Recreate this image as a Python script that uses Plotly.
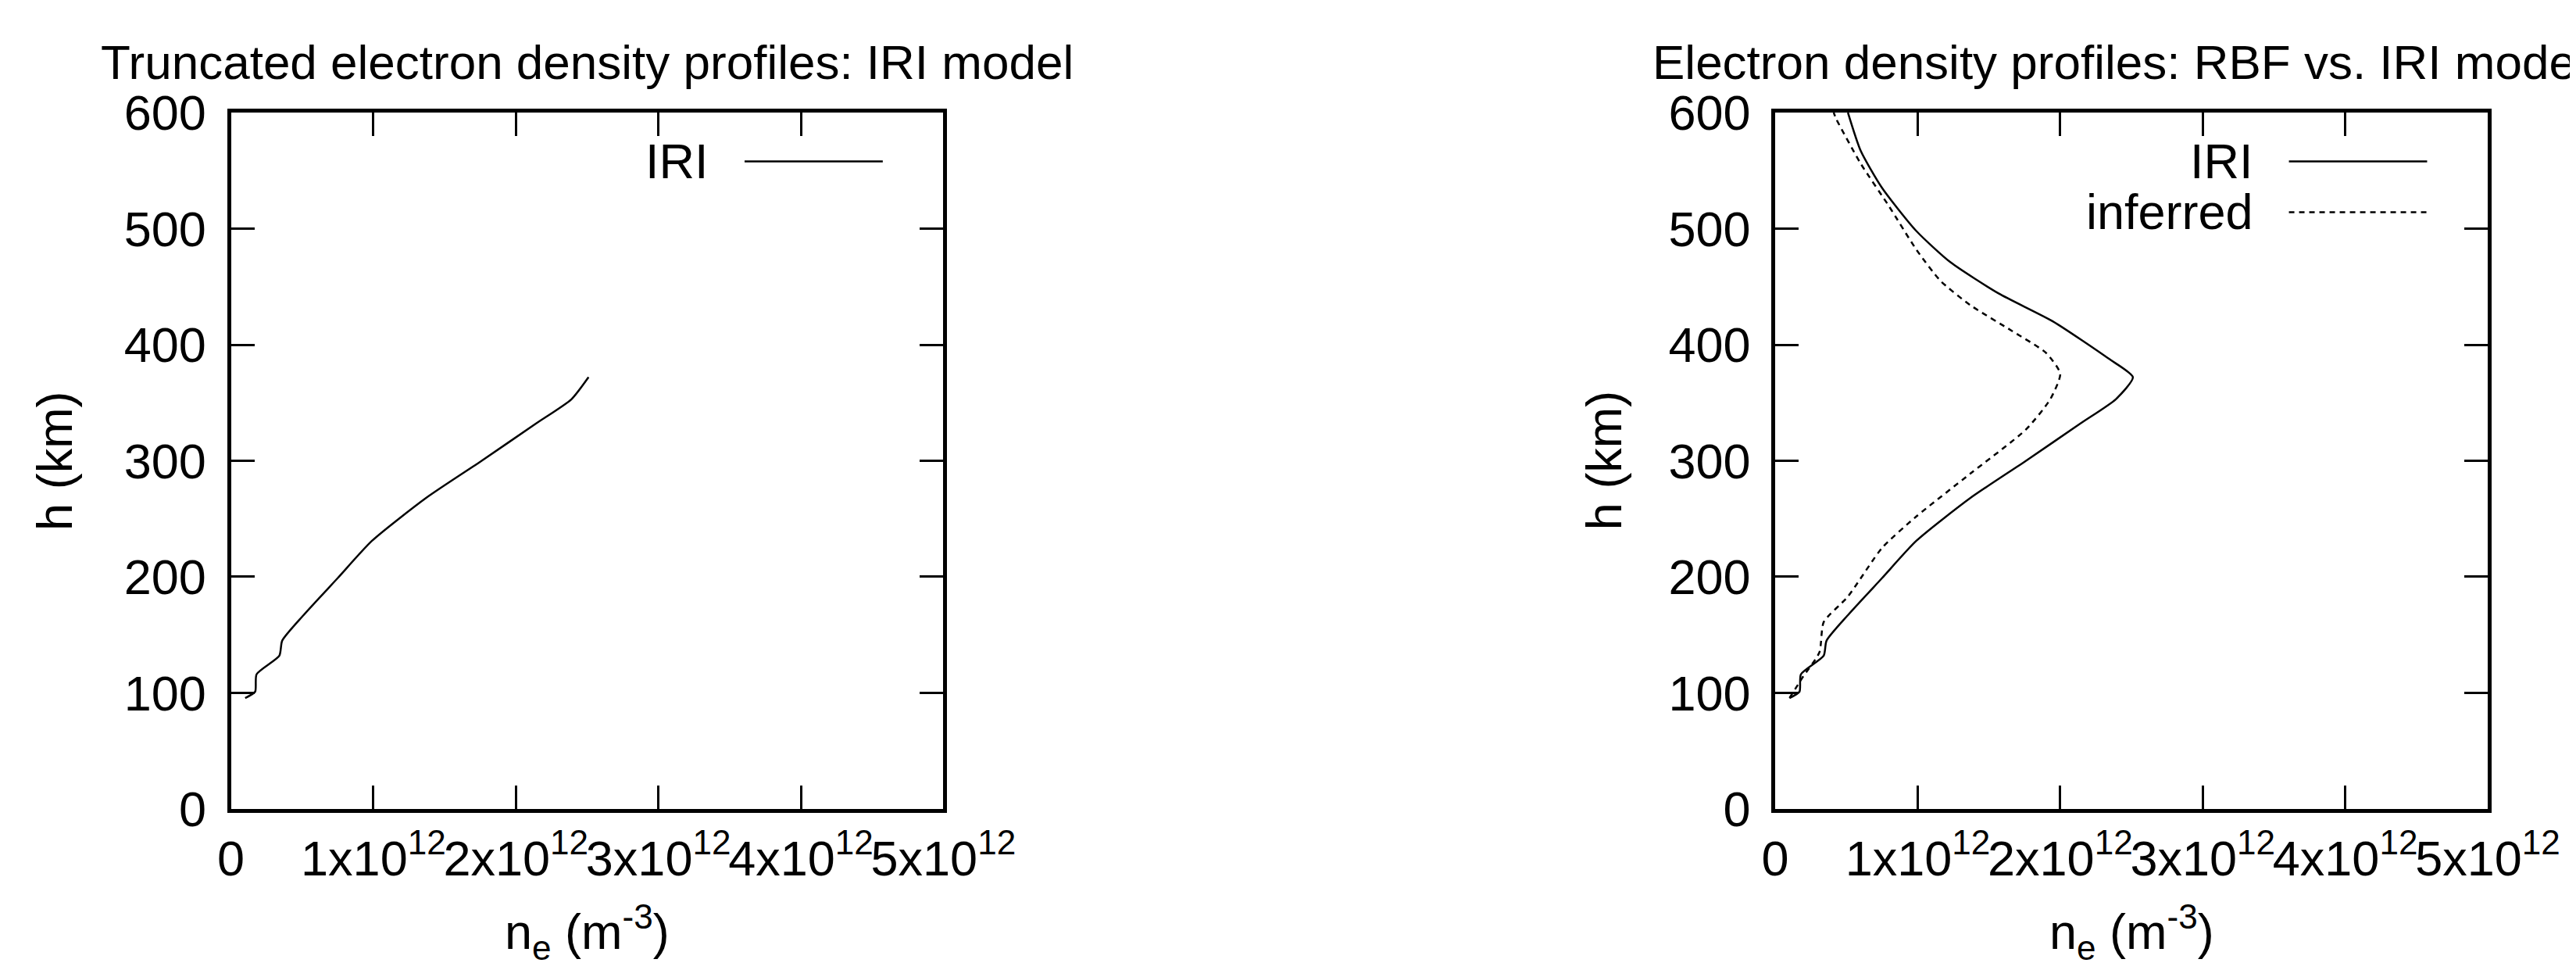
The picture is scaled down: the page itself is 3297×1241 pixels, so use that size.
import plotly.graph_objects as go

iri_ne = [0.10, 0.17, 0.18, 0.34, 0.36, 0.51, 0.75, 0.99, 1.37, 1.76, 2.14, 2.39, 2.51,
          2.34, 1.95, 1.57, 1.23, 0.99, 0.75, 0.60, 0.51]
iri_h = [95.6, 101, 116, 132, 145, 167, 199, 231, 268, 300, 332, 353, 372,
         388, 420, 444, 471, 498, 535, 567, 600]
inf_ne = [0.10, 0.19, 0.31, 0.34, 0.51, 0.75, 0.99, 1.37, 1.76, 1.93, 2.00, 1.90, 1.66,
          1.37, 1.16, 0.99, 0.80, 0.60, 0.43, 0.41]
inf_h = [95.6, 113, 135, 161, 183, 225, 252, 289, 327, 353, 375, 393, 412,
         434, 455, 482, 519, 556, 594, 600]
trunc_n = 13  # truncated IRI profile up to the peak

xtick_vals = [0, 1e12, 2e12, 3e12, 4e12, 5e12]
xtick_text = ["0", "1x10<sup>12</sup>", "2x10<sup>12</sup>", "3x10<sup>12</sup>",
              "4x10<sup>12</sup>", "5x10<sup>12</sup>"]
ytick_vals = [0, 100, 200, 300, 400, 500, 600]

F = "Liberation Sans, Arial, sans-serif"
FS = 63
fig = go.Figure()
fig.add_trace(go.Scatter(x=[v * 1e12 for v in iri_ne[:trunc_n]], y=iri_h[:trunc_n], mode="lines",
                         line=dict(color="black", width=2.5, shape="spline", smoothing=0.6), xaxis="x", yaxis="y"))
fig.add_trace(go.Scatter(x=[v * 1e12 for v in iri_ne], y=iri_h, mode="lines",
                         line=dict(color="black", width=2.5, shape="spline", smoothing=0.6), xaxis="x2", yaxis="y2"))
fig.add_trace(go.Scatter(x=[v * 1e12 for v in inf_ne], y=inf_h, mode="lines",
                         line=dict(color="black", width=2.5, dash="7px,6px", shape="spline", smoothing=0.6),
                         xaxis="x2", yaxis="y2"))

ax = dict(showgrid=False, zeroline=False, showline=True, linecolor="black", linewidth=5,
          mirror="ticks", ticks="inside", ticklen=30, tickwidth=3, tickcolor="black",
          tickfont=dict(family=F, size=FS, color="black"))
xdoms = [[0.0846, 0.3708], [0.705, 0.9912]]
ydom = [0.1529, 0.9137]
lay = dict(width=3297, height=1241, margin=dict(l=0, r=0, t=0, b=0), showlegend=False,
           plot_bgcolor="white", paper_bgcolor="white", font=dict(family=F, color="black"))
for i, xd in enumerate(xdoms):
    s = "" if i == 0 else "2"
    lay["xaxis" + s] = dict(ax, domain=xd, range=[0, 5e12], tickvals=xtick_vals, ticktext=xtick_text,
                            anchor="y" + s, tickangle=0, ticklabelstandoff=4)
    lay["yaxis" + s] = dict(ax, domain=ydom, range=[0, 600], tickvals=ytick_vals, anchor="x" + s,
                            ticklabelstandoff=14)
fig.update_layout(**lay)

ann = []
shapes = []
titles = ["Truncated electron density profiles: IRI model", "Electron density profiles: RBF vs. IRI models"]
ytitle_x = [0.002, 0.6245]
for i, (xd, title) in enumerate(zip(xdoms, titles)):
    ann.append(dict(text=title, x=(xd[0] + xd[1]) / 2, y=1.0, xref="paper", yref="paper",
                    showarrow=False, font=dict(family=F, size=62), xanchor="center", yanchor="top"))
    ann.append(dict(text="n<sub>e</sub> (m<sup>-3</sup>)", x=(xd[0] + xd[1]) / 2, y=0.018, xref="paper",
                    yref="paper", showarrow=False, font=dict(family=F, size=FS), xanchor="center",
                    yanchor="middle"))
    ann.append(dict(text="h (km)", x=ytitle_x[i], y=(ydom[0] + ydom[1]) / 2, xref="paper", yref="paper",
                    showarrow=False, font=dict(family=F, size=FS), xanchor="left", yanchor="middle",
                    textangle=-90))
    s = "" if i == 0 else "2"
    items = [("IRI", "solid", 0.930)] + ([("inferred", "7px,6px", 0.857)] if i == 1 else [])
    for name, dash, yy in items:
        ann.append(dict(text=name, x=0.673, y=yy, xref="x%s domain" % s, yref="y%s domain" % s,
                        showarrow=False, xanchor="right", yanchor="middle", font=dict(family=F, size=FS)))
        shapes.append(dict(type="line", x0=0.721, x1=0.915, y0=yy, y1=yy, xref="x%s domain" % s,
                           yref="y%s domain" % s, line=dict(color="black", width=2.5, dash=dash)))
fig.update_layout(annotations=ann, shapes=shapes)
fig.write_html("out.html")
